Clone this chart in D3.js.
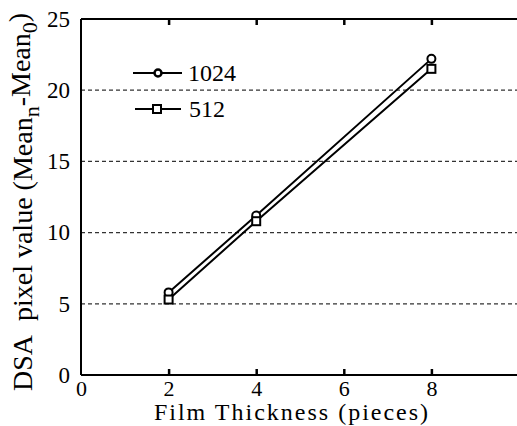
<!DOCTYPE html>
<html>
<head>
<meta charset="utf-8">
<script src="https://cdn.jsdelivr.net/npm/d3@7"></script>
<style>
  body { margin: 0; background: #fff; }
  svg { display: block; }
  text { font-family: "Liberation Serif", "DejaVu Serif", serif; fill: #000; }
</style>
</head>
<body>
<div id="chart"></div>
<script>
// data
const thickness = [2, 4, 8];
const series1024 = [5.8, 11.2, 22.2];
const series512 = [5.3, 10.8, 21.5];
const xTicks = [0, 2, 4, 6, 8];
const yTicks = [0, 5, 10, 15, 20, 25];
const gridValues = [5, 10, 15, 20];

const WIDTH = 517, HEIGHT = 426;
const MARGIN = { top: 19, right: -2, bottom: 51, left: 81 };
const innerW = WIDTH - MARGIN.left - MARGIN.right;
const innerH = HEIGHT - MARGIN.top - MARGIN.bottom;

const svg = d3.select("#chart")
    .append("svg")
    .attr("width", WIDTH)
    .attr("height", HEIGHT);

const g = svg.append("g")
    .attr("transform", `translate(${MARGIN.left}, ${MARGIN.top})`);

const x = d3.scaleLinear().domain([0, 10]).range([0, innerW]);
const y = d3.scaleLinear().domain([0, 25]).range([innerH, 0]);

// dashed grid lines
g.selectAll(".grid")
    .data(gridValues)
    .enter()
    .append("line")
    .attr("x1", 0)
    .attr("x2", innerW)
    .attr("y1", d => y(d))
    .attr("y2", d => y(d))
    .attr("stroke", "#333")
    .attr("stroke-width", 1.2)
    .attr("stroke-dasharray", "4,3");

// frame
g.append("line").attr("x1", 0).attr("x2", 0).attr("y1", 0).attr("y2", innerH)
    .attr("stroke", "#000").attr("stroke-width", 2);
g.append("line").attr("x1", 0).attr("x2", innerW).attr("y1", innerH).attr("y2", innerH)
    .attr("stroke", "#000").attr("stroke-width", 2);
g.append("line").attr("x1", 0).attr("x2", innerW).attr("y1", 0).attr("y2", 0)
    .attr("stroke", "#000").attr("stroke-width", 2);

// ticks inward on bottom and top
const bottomAxis = g.append("g")
    .attr("transform", `translate(0, ${innerH})`)
    .call(d3.axisBottom(x).tickValues(xTicks).tickSize(-6).tickPadding(5).tickFormat(d3.format("d")));
bottomAxis.select(".domain").remove();
bottomAxis.selectAll(".tick line").attr("stroke", "#000").attr("stroke-width", 2.5)
    .filter(d => d === 0).remove();
bottomAxis.selectAll("text").attr("font-size", "22px").attr("dy", "0.71em");

const topAxis = g.append("g")
    .call(d3.axisTop(x).tickValues(xTicks.filter(d => d > 0)).tickSize(-6).tickFormat(""));
topAxis.select(".domain").remove();
topAxis.selectAll(".tick line").attr("stroke", "#000").attr("stroke-width", 2.5);

const leftAxis = g.append("g")
    .call(d3.axisLeft(y).tickValues(yTicks).tickSize(0).tickPadding(11));
leftAxis.select(".domain").remove();
leftAxis.selectAll("text").attr("font-size", "23px");

// series lines
const line = d3.line().x((d, i) => x(thickness[i])).y(d => y(d));

[series1024, series512].forEach(s => {
    g.append("path")
        .datum(s)
        .attr("d", line)
        .attr("fill", "none")
        .attr("stroke", "#000")
        .attr("stroke-width", 2);
});

// markers
g.selectAll(".c1024")
    .data(series1024)
    .enter()
    .append("circle")
    .attr("cx", (d, i) => x(thickness[i]))
    .attr("cy", d => y(d))
    .attr("r", 4)
    .attr("fill", "#fff")
    .attr("stroke", "#000")
    .attr("stroke-width", 2);

g.selectAll(".s512")
    .data(series512)
    .enter()
    .append("rect")
    .attr("x", (d, i) => x(thickness[i]) - 4)
    .attr("y", d => y(d) - 4)
    .attr("width", 8)
    .attr("height", 8)
    .attr("fill", "#fff")
    .attr("stroke", "#000")
    .attr("stroke-width", 2);

// legend
const legend = svg.append("g").attr("transform", "translate(133, 73)");
legend.append("line").attr("x1", 0).attr("x2", 49).attr("y1", 0).attr("y2", 0)
    .attr("stroke", "#000").attr("stroke-width", 2);
legend.append("circle").attr("cx", 25).attr("cy", 0).attr("r", 3.5)
    .attr("fill", "#fff").attr("stroke", "#000").attr("stroke-width", 2.5);
legend.append("text").attr("x", 55).attr("y", 0).attr("dy", "0.35em")
    .attr("font-size", "24px").text("1024");

legend.append("line").attr("x1", 2).attr("x2", 48).attr("y1", 36).attr("y2", 36)
    .attr("stroke", "#000").attr("stroke-width", 2);
legend.append("rect").attr("x", 20).attr("y", 32).attr("width", 8).attr("height", 8)
    .attr("fill", "#fff").attr("stroke", "#000").attr("stroke-width", 2);
legend.append("text").attr("x", 56).attr("y", 36).attr("dy", "0.35em")
    .attr("font-size", "24px").text("512");

// axis titles
svg.append("text")
    .attr("x", 292)
    .attr("y", 420)
    .attr("text-anchor", "middle")
    .attr("font-size", "24px")
    .attr("letter-spacing", "2px")
    .text("Film Thickness (pieces)");

const yTitle = svg.append("text")
    .attr("transform", "translate(32, 202) rotate(-90)")
    .attr("text-anchor", "middle")
    .attr("font-size", "28px");
yTitle.append("tspan").text("DSA\u00a0\u00a0pixel value (Mean");
yTitle.append("tspan").attr("font-size", "22px").attr("dy", "0.3em").text("n");
yTitle.append("tspan").attr("dy", "-0.3em").text("-Mean");
yTitle.append("tspan").attr("font-size", "22px").attr("dy", "0.3em").text("0");
yTitle.append("tspan").attr("dy", "-0.3em").text(")");
</script>
</body>
</html>
